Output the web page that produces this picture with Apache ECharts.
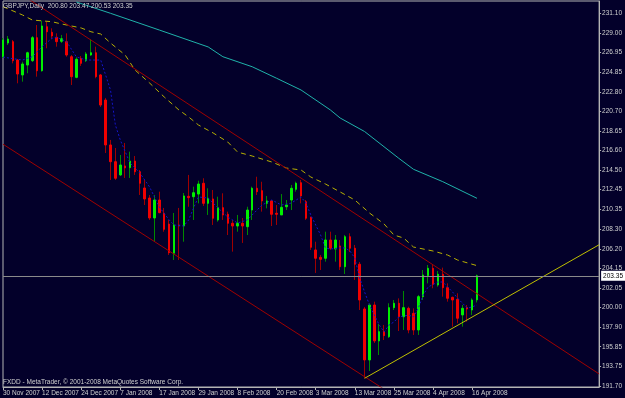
<!DOCTYPE html>
<html lang="en">
<head>
<meta charset="UTF-8">
<title>GBPJPY,Daily</title>
<script src="https://cdn.jsdelivr.net/npm/echarts@6/dist/echarts.min.js"></script>
<style>
    html, body { margin: 0; padding: 0; background: #03002a; }
    #chart { width: 625px; height: 398px; }
</style>
</head>
<body>
<div id="chart"></div>
<script>
// x labels, one every 8 bars
var dateLabels = ['30 Nov 2007', '12 Dec 2007', '24 Dec 2007', '7 Jan 2008', '17 Jan 2008', '29 Jan 2008',
    '8 Feb 2008', '20 Feb 2008', '3 Mar 2008', '13 Mar 2008', '25 Mar 2008', '4 Apr 2008', '16 Apr 2008'];
var labelStep = 8;
var shiftBars = 25; // empty space right of the last bar

var open = [226.48, 227.96, 228.10, 226.16, 224.58, 225.63, 226.09, 228.52, 225.03, 229.68,
    229.09, 228.56, 228.14, 228.10, 226.51, 224.33, 226.34, 226.09, 226.69, 226.93,
    224.58, 221.93, 217.18, 215.41, 214.01, 214.96, 214.78, 215.48, 214.35, 212.63,
    211.57, 209.46, 211.36, 209.96, 208.82, 205.73, 208.72, 208.61, 211.75, 211.71,
    211.99, 213.13, 211.01, 211.47, 209.25, 210.55, 209.85, 208.90, 208.61, 208.90,
    208.54, 210.30, 212.60, 212.35, 211.01, 211.26, 209.96, 209.78, 210.65, 211.36,
    212.49, 213.19, 211.18, 209.53, 206.08, 205.30, 205.20, 207.13, 206.18, 206.50,
    204.31, 207.48, 206.26, 204.57, 199.84, 194.45, 200.26, 196.46, 197.44, 196.91,
    199.98, 200.44, 199.02, 199.91, 199.38, 197.62, 201.14, 203.36, 204.14, 202.38,
    203.51, 202.09, 201.07, 200.86, 199.21, 199.98, 199.73, 200.80];
var high = [228.49, 228.70, 228.28, 226.27, 225.98, 227.04, 228.70, 229.86, 230.32, 230.21,
    229.51, 228.98, 228.81, 228.98, 226.69, 226.45, 226.59, 227.01, 228.35, 227.57,
    224.68, 222.15, 217.71, 216.86, 216.12, 217.39, 216.47, 216.01, 214.53, 213.48,
    211.89, 211.89, 212.24, 210.52, 209.25, 209.99, 210.52, 212.10, 214.01, 212.77,
    213.40, 213.66, 212.60, 212.42, 211.71, 212.07, 210.13, 209.25, 209.78, 209.46,
    210.65, 212.77, 213.82, 213.29, 211.79, 211.36, 210.83, 211.99, 211.36, 212.95,
    213.30, 213.48, 211.36, 209.60, 206.95, 205.55, 208.01, 208.01, 207.66, 207.13,
    207.66, 207.84, 206.61, 204.81, 200.05, 200.44, 200.61, 198.25, 198.15, 200.44,
    200.79, 200.96, 201.74, 200.08, 199.91, 201.32, 203.96, 204.49, 204.57, 203.86,
    204.21, 202.55, 201.14, 201.50, 200.26, 200.26, 200.97, 203.47];
var low = [226.37, 227.75, 225.81, 223.70, 223.87, 224.76, 225.95, 224.40, 224.93, 227.40,
    228.35, 227.57, 227.96, 226.51, 223.52, 224.23, 225.53, 225.95, 226.59, 224.23,
    221.19, 216.33, 213.48, 213.48, 213.90, 213.69, 213.69, 214.01, 211.89, 210.83,
    209.25, 206.95, 209.96, 208.01, 205.55, 205.02, 205.02, 206.95, 210.65, 209.25,
    211.01, 210.73, 209.78, 208.72, 209.07, 209.25, 207.66, 205.90, 208.01, 206.82,
    207.66, 209.25, 211.89, 210.13, 210.48, 208.61, 208.72, 209.78, 210.30, 210.30,
    212.24, 211.01, 209.25, 206.08, 203.65, 203.96, 204.84, 206.08, 204.84, 203.96,
    203.54, 205.86, 202.91, 199.73, 192.51, 193.28, 196.24, 194.97, 196.56, 196.77,
    199.73, 197.51, 197.62, 197.27, 197.09, 197.09, 200.79, 202.55, 202.03, 202.20,
    201.14, 200.61, 197.97, 198.33, 197.97, 198.50, 199.21, 200.53];
var close = [228.28, 228.38, 226.09, 224.68, 225.74, 226.93, 228.52, 225.03, 229.76, 229.15,
    228.70, 228.10, 228.41, 226.69, 224.40, 226.24, 225.81, 226.80, 226.93, 224.40,
    221.40, 217.18, 215.41, 213.66, 215.06, 214.75, 215.48, 214.35, 213.13, 211.47,
    209.46, 211.36, 210.02, 208.26, 205.79, 208.72, 208.61, 211.79, 211.61, 212.13,
    213.05, 211.01, 211.54, 209.43, 210.55, 209.78, 208.90, 208.61, 208.90, 208.61,
    210.30, 212.60, 212.24, 211.26, 211.26, 209.85, 209.85, 210.59, 210.83, 212.60,
    213.13, 211.79, 209.43, 206.36, 205.20, 205.09, 207.13, 206.26, 207.13, 204.31,
    207.48, 206.26, 204.57, 200.79, 194.45, 200.26, 196.46, 197.44, 197.02, 199.98,
    200.44, 199.02, 199.98, 197.62, 197.62, 201.14, 203.43, 204.14, 202.45, 203.51,
    202.09, 200.97, 200.79, 198.86, 199.91, 199.84, 200.79, 203.35];

var priceTicks = [191.70, 193.75, 195.85, 197.90, 200.00, 202.05, 204.15, 206.20, 208.30, 210.35,
    212.45, 214.50, 216.60, 218.65, 220.70, 222.80, 224.85, 226.95, 229.00, 231.10];
var lastPrice = 203.35;

// indicators, [bar, price]
var maFast = [[0, 226.48], [2, 226.30], [4, 226.16], [6, 226.51], [8, 227.57], [10, 228.46], [11, 228.56],
    [13, 228.10], [15, 226.51], [17, 226.16], [20, 226.16], [22, 222.99], [23, 219.29], [24, 217.71],
    [26, 215.27], [27, 214.75], [28, 214.22], [30, 212.74], [31, 211.68], [32, 210.62], [34, 209.25],
    [35, 208.72], [37, 208.61], [38, 209.25], [39, 210.52], [40, 211.68], [42, 211.57], [44, 210.52],
    [46, 209.56], [48, 208.93], [50, 209.25], [53, 210.83], [55, 211.36], [57, 210.83], [59, 211.04],
    [61, 211.68], [62, 211.04], [63, 209.78], [65, 207.66], [66, 206.29], [67, 206.18], [69, 206.29],
    [70, 206.29], [71, 205.97], [72, 205.23], [73, 203.12], [74, 201.64], [75, 200.26], [76, 199.20],
    [77, 198.15], [78, 197.41], [79, 198.15], [80, 198.46], [81, 198.99], [83, 199.20], [84, 198.99],
    [85, 199.94], [86, 201.32], [87, 202.16], [89, 202.69], [90, 202.69], [91, 202.16], [92, 201.64],
    [93, 201.00], [94, 200.47], [95, 199.94], [96, 200.05], [97, 200.26]];
var maMid = [[0, 231.80], [4, 230.92], [6, 230.39], [10, 230.21], [12, 229.97], [16, 229.55], [18, 229.15],
    [20, 228.91], [22, 227.96], [25, 226.69], [27, 225.11], [30, 223.73], [33, 222.25], [36, 220.88],
    [38, 220.14], [40, 219.29], [43, 218.45], [46, 217.49], [48, 216.43], [51, 216.01], [55, 215.38],
    [58, 214.74], [61, 214.53], [63, 213.79], [66, 213.05], [69, 212.21], [72, 211.36], [75, 209.99],
    [78, 208.82], [80, 207.66], [82, 207.34], [84, 206.39], [88, 205.97], [91, 205.54], [93, 205.02],
    [97, 204.42]];
var maLong = [[15, 232.30], [22, 231.10], [32, 229.33], [42, 227.54], [45, 226.51], [51, 225.45],
    [56, 224.23], [61, 222.99], [67, 220.88], [69, 220.03], [74, 218.60], [81, 215.77], [84, 214.61],
    [90, 213.30], [97, 211.54]];

// trend lines drawn on the chart
var upperChannel = [[0, 234.38], [122, 192.97]];
var lowerChannel = [[0, 217.26], [122, 176.74]];
var supportLine = [[74, 192.51], [122, 206.63]];

var font = "'Liberation Sans', Arial, sans-serif";
var fontSize = 6.5;
var frameColor = '#b4b4b4';
var textColor = '#d0d0d0';

var categories = [];
for (var i = 0; i < open.length + shiftBars; i++) categories.push(String(i));

var candles = [], bodies = [];
for (var i = 0; i < open.length; i++) {
    candles.push([open[i], close[i], low[i], high[i]]);
    bodies.push([open[i], close[i], Math.min(open[i], close[i]), Math.max(open[i], close[i])]);
}

function isLabelled(idx) {
    return idx % labelStep === 0 && idx / labelStep < dateLabels.length;
}

function lineSeries(data, color, type) {
    return {
        type: 'line', data: data, showSymbol: false, silent: true,
        lineStyle: { color: color, width: 1, type: type || 'solid' }
    };
}

var myChart = echarts.init(document.getElementById('chart'));
var option = {
    animation: false,
    backgroundColor: '#03002a',
    textStyle: { fontFamily: font },
    title: [{
        text: 'GBPJPY,Daily  200.80 203.47 200.53 203.35',
        left: 3, top: 3, padding: 0,
        textStyle: { color: textColor, fontSize: fontSize, fontWeight: 'normal', fontFamily: font }
    }, {
        text: 'FXDD - MetaTrader, \u00a9 2001-2008 MetaQuotes Software Corp.',
        left: 3, top: 379, padding: 0,
        textStyle: { color: textColor, fontSize: fontSize, fontWeight: 'normal', fontFamily: font }
    }],
    grid: {
        left: 2, right: 23, top: 1, bottom: 11,
        show: true, borderColor: frameColor, borderWidth: 1
    },
    xAxis: {
        type: 'category',
        data: categories,
        boundaryGap: false,
        axisLine: { lineStyle: { color: frameColor } },
        axisTick: { interval: isLabelled, length: 3, lineStyle: { color: frameColor } },
        axisLabel: {
            interval: isLabelled,
            showMinLabel: true,
            hideOverlap: false,
            formatter: function (v, idx) { return dateLabels[idx / labelStep]; },
            align: 'left', color: textColor, fontSize: fontSize, margin: 3, fontFamily: font
        },
        splitLine: { show: false }
    },
    yAxis: {
        type: 'value',
        position: 'right',
        min: 191.59,
        max: 232.40,
        axisLine: { show: true, lineStyle: { color: frameColor } },
        axisTick: { show: true, customValues: priceTicks, length: 2, lineStyle: { color: frameColor } },
        axisLabel: {
            customValues: priceTicks,
            formatter: function (v) { return v.toFixed(2); },
            color: textColor, fontSize: fontSize, margin: 3, fontFamily: font
        },
        splitLine: { show: false }
    },
    series: [
        {
            // wicks
            type: 'candlestick', data: candles, barWidth: 1, silent: true,
            itemStyle: { color: '#008a00', color0: '#a00000', borderColor: '#008a00', borderColor0: '#a00000', borderWidth: 1 }
        },
        {
            // bodies
            type: 'candlestick', data: bodies, barWidth: 2, silent: true,
            itemStyle: { color: '#00f000', color0: '#f00000', borderColor: '#00f000', borderColor0: '#f00000', borderWidth: 1 },
            markLine: {
                silent: true, symbol: ['none', 'none'],
                lineStyle: { color: '#8a8a8a', width: 1, type: 'solid' },
                label: {
                    position: 'end', distance: 2, formatter: lastPrice.toFixed(2),
                    color: '#000', backgroundColor: '#ffffff', padding: [2, 2, 1, 2],
                    fontSize: fontSize, fontFamily: font
                },
                data: [{ yAxis: lastPrice }]
            }
        },
        lineSeries(maLong, '#20b2aa'),
        lineSeries(maMid, '#b8b000', [5, 4]),
        lineSeries(maFast, '#1414c8', [2, 2]),
        lineSeries(upperChannel, '#a00000'),
        lineSeries(lowerChannel, '#a00000'),
        lineSeries(supportLine, '#c0c000')
    ]
};
myChart.setOption(option);
</script>
</body>
</html>
